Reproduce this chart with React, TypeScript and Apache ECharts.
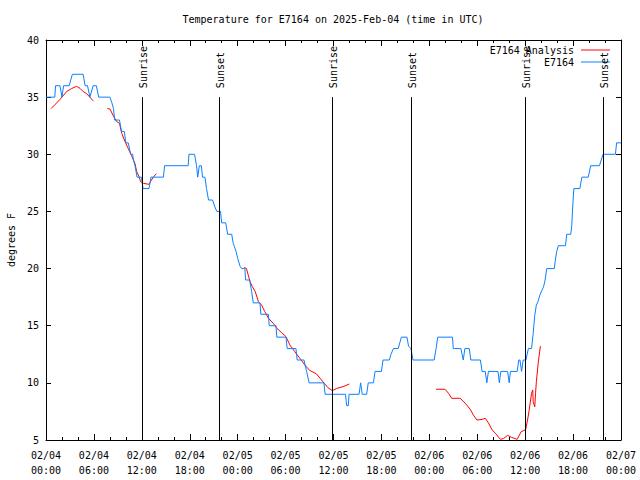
import React, { useEffect, useRef } from "react";
import * as echarts from "echarts";

const FONT = "'DejaVu Sans Mono', 'Liberation Mono', monospace";

const titleText = "Temperature for E7164 on 2025-Feb-04 (time in UTC)";
const yAxisName = "degrees F";

// x values are hours since 02/04 00:00 UTC
const blueName = "E7164";
const blueData: [number, number][] = [
  [0, 35], [1.1, 35], [1.2, 36], [1.75, 36], [2.0, 35], [2.2, 36], [2.9, 36], [3.3, 37], [4.65, 37],
  [4.9, 36], [5.2, 36], [5.5, 35], [5.9, 36], [6.3, 36], [6.6, 35], [8.0, 35], [8.25, 34.5], [8.45, 34],
  [8.6, 33], [9.2, 33], [9.45, 32], [9.8, 32], [10.0, 31], [10.3, 31], [10.6, 30], [10.85, 30],
  [10.95, 29.5], [11.15, 29], [11.4, 28], [11.95, 28], [12.15, 27], [12.9, 27], [13.15, 28], [14.7, 28],
  [14.85, 29], [17.8, 29], [17.9, 30], [18.6, 30], [18.85, 29], [19.0, 28], [19.2, 29], [19.45, 29],
  [19.6, 28], [19.9, 28], [20.1, 27], [20.35, 26], [20.85, 26], [21.2, 25.3], [21.4, 25], [21.85, 25],
  [22.0, 24], [22.5, 24], [22.75, 23], [23.25, 23], [23.45, 22.2], [23.6, 21.9], [23.8, 21.5],
  [24.0, 20.9], [24.3, 20.2], [24.5, 20], [24.9, 20], [25.0, 19], [25.5, 19], [25.75, 18], [25.95, 17],
  [26.8, 17], [26.9, 16], [27.85, 16], [27.95, 15], [28.8, 15], [28.9, 14], [30.05, 14], [30.2, 13],
  [31.3, 13], [31.45, 12], [32.3, 12], [32.6, 11.1], [32.95, 10], [34.8, 10], [34.95, 9], [37.5, 9],
  [37.65, 8], [37.85, 8], [37.95, 9], [39.2, 9], [39.4, 10], [39.6, 9], [40.15, 9], [40.35, 10],
  [41.0, 10], [41.2, 11], [42.0, 11], [42.2, 12], [43.0, 12], [43.2, 12.5], [43.5, 13], [44.1, 13],
  [44.5, 14], [45.2, 14], [45.4, 13.2], [45.7, 13], [45.95, 12], [48.6, 12], [48.85, 13], [49.05, 14],
  [50.9, 14], [51.0, 13], [51.95, 13], [52.25, 12], [52.45, 13], [53.0, 13], [53.2, 12], [54.4, 12],
  [54.6, 11], [55.0, 11], [55.2, 10], [55.4, 11], [56.6, 11], [56.77, 10], [56.95, 11], [57.8, 11],
  [58.0, 10], [58.15, 11], [59.0, 11], [59.2, 12], [59.35, 12], [59.55, 11], [59.75, 12], [60.1, 12],
  [60.4, 13], [60.8, 13], [61.0, 14.3], [61.2, 15.9], [61.4, 16.8], [61.6, 17.1], [61.85, 17.7],
  [62.1, 18.1], [62.3, 18.4], [62.5, 19], [62.7, 20], [63.65, 20], [63.75, 20.6], [63.95, 21.5],
  [64.15, 22], [65.05, 22], [65.2, 23], [65.7, 23], [65.83, 23.7], [65.9, 24.7], [66.0, 26],
  [66.1, 27], [66.85, 27], [67.1, 28], [67.9, 28], [68.2, 29], [69.3, 29], [69.75, 30], [71.3, 30],
  [71.45, 31], [72, 31],
];

const redName = "E7164 Analysis";
const redSeg1: [number, number][] = [
  [0.63, 34.0], [1.2, 34.4], [1.75, 34.8], [2.6, 35.5], [3.2, 35.75], [3.84, 35.95], [4.26, 35.77],
  [4.67, 35.48], [5.1, 35.3], [5.93, 34.66],
];
const redSeg2: [number, number][] = [
  [7.68, 34.0], [8.02, 33.95], [8.44, 33.35], [8.85, 32.86], [9.2, 32.7], [9.48, 31.84], [9.9, 31.1],
  [10.3, 30.5], [10.7, 29.9], [11.14, 29.2], [11.35, 28.5], [11.65, 28.04], [11.85, 27.6],
  [12.2, 27.46], [12.9, 27.37], [13.2, 27.75], [13.5, 28.04], [13.8, 28.3],
];
const redSeg3: [number, number][] = [
  [24.83, 20.1], [25.1, 20.0], [25.55, 18.86], [25.84, 18.42], [26.2, 17.98], [26.6, 17.1],
  [27.0, 16.8], [27.4, 16.23], [27.86, 15.65], [28.46, 15.2], [28.9, 14.78], [29.5, 14.4],
  [30.05, 14.04], [30.55, 13.3], [31.15, 12.73], [31.78, 12.15], [32.4, 11.57], [33.0, 11.1],
  [33.87, 10.78], [34.5, 10.25], [35.3, 9.58], [35.86, 9.32], [36.36, 9.5], [37.2, 9.67], [37.98, 9.9],
];
const redSeg4: [number, number][] = [
  [48.83, 9.44], [49.96, 9.44], [50.4, 9.09], [50.8, 8.65], [51.85, 8.65], [52.5, 8.21], [53.1, 7.7],
  [53.5, 7.2], [53.96, 6.75], [54.6, 6.8], [55.0, 6.9], [55.4, 6.5], [55.85, 5.9], [56.25, 5.6],
  [56.9, 5.06], [57.3, 5.13], [57.8, 5.41], [58.26, 5.24], [59.0, 5.06], [59.5, 5.73], [60.05, 5.9],
  [60.3, 6.75], [60.5, 7.6], [60.8, 9.09], [60.95, 9.38], [61.0, 8.36], [61.2, 7.9], [61.3, 9.09],
  [61.4, 10.1], [61.65, 11.85], [61.9, 13.17], [62.0, 13.2],
];
const redSegments = [redSeg1, redSeg2, redSeg3, redSeg4];

const sunTimes = [11.97, 21.7, 35.85, 45.75, 59.93, 69.8];
const sunLabels = ["Sunrise", "Sunset", "Sunrise", "Sunset", "Sunrise", "Sunset"];
const sunLineTop = 35;

const xMin = 0;
const xMax = 72;
const xStep = 6;
const yMin = 5;
const yMax = 40;
const yStep = 5;

function xLabel(h: number): string {
  const day = 4 + Math.floor(h / 24);
  const hh = Math.round(h % 24);
  return "02/0" + day + "\n" + (hh < 10 ? "0" + hh : "" + hh) + ":00";
}

export default function App() {
  const ref = useRef<HTMLDivElement>(null);
  useEffect(() => {
    if (!ref.current) return;
    const chart = echarts.init(ref.current, undefined, { renderer: "svg" });
    const txt = { fontFamily: FONT, fontSize: 10, color: "#000" };
    const axisLine = { show: true, onZero: false, lineStyle: { color: "#000", width: 1 } };
    const redSeries = redSegments.map((seg) => ({
      name: redName,
      type: "line",
      data: seg,
      symbol: "none",
      showSymbol: false,
      lineStyle: { color: "#ff0000", width: 1 },
      itemStyle: { color: "#ff0000" },
      xAxisIndex: 0,
      yAxisIndex: 0,
      z: 3,
    }));
    chart.setOption({
      animation: false,
      backgroundColor: "#fff",
      grid: { left: 46, right: 19, top: 40, bottom: 40, containLabel: false, outerBoundsMode: "none" },
      graphic: [
        {
          type: "text",
          x: 333,
          y: 19,
          style: {
            text: titleText,
            textAlign: "center",
            textVerticalAlign: "middle",
            font: "10px " + FONT,
            fill: "#000",
          },
        },
      ],
      legend: {
        data: [redName, blueName],
        orient: "vertical",
        right: 30,
        top: 45,
        align: "right",
        icon: "rect",
        itemWidth: 29,
        itemHeight: 1,
        itemGap: 2,
        padding: 0,
        textStyle: { ...txt, padding: [0, 2, 0, 0] },
      },
      xAxis: [
        {
          type: "value",
          position: "bottom",
          min: xMin,
          max: xMax,
          interval: xStep,
          axisLine,
          axisTick: { show: true, inside: true, length: 6, lineStyle: { color: "#000" } },
          minorTick: { show: true, splitNumber: 3, length: 3, lineStyle: { color: "#000" } },
          splitLine: { show: false },
          axisLabel: { ...txt, margin: 8, lineHeight: 15, formatter: (v: number) => xLabel(v) },
        },
        {
          type: "value",
          position: "top",
          min: xMin,
          max: xMax,
          interval: xStep,
          axisLine,
          axisTick: { show: true, inside: true, length: 6, lineStyle: { color: "#000" } },
          minorTick: { show: true, splitNumber: 3, length: 3, lineStyle: { color: "#000" } },
          splitLine: { show: false },
          axisLabel: { show: false },
        },
      ],
      yAxis: [
        {
          type: "value",
          position: "left",
          min: yMin,
          max: yMax,
          interval: yStep,
          name: yAxisName,
          nameLocation: "middle",
          nameGap: 30,
          nameRotate: 90,
          nameTextStyle: txt,
          axisLine,
          axisTick: { show: true, inside: true, length: 5, lineStyle: { color: "#000" } },
          splitLine: { show: false },
          axisLabel: { ...txt, margin: 7 },
        },
        {
          type: "value",
          position: "right",
          min: yMin,
          max: yMax,
          interval: yStep,
          axisLine,
          axisTick: { show: true, inside: true, length: 5, lineStyle: { color: "#000" } },
          splitLine: { show: false },
          axisLabel: { show: false },
        },
      ],
      series: [
        ...redSeries,
        {
          name: blueName,
          type: "line",
          data: blueData,
          symbol: "none",
          showSymbol: false,
          lineStyle: { color: "#0a80ff", width: 1 },
          itemStyle: { color: "#0a80ff" },
          xAxisIndex: 0,
          yAxisIndex: 0,
          z: 4,
        },
        {
          name: "sun",
          type: "custom",
          xAxisIndex: 0,
          yAxisIndex: 0,
          data: sunTimes.map((t) => [t, sunLineTop]),
          encode: { x: 0, y: 1 },
          z: 5,
          silent: true,
          renderItem: (params: any, api: any) => {
            const t = api.value(0);
            const p0 = api.coord([t, yMin]);
            const p1 = api.coord([t, api.value(1)]);
            const x = Math.round(p0[0]) + 0.5;
            return {
              type: "group",
              children: [
                {
                  type: "line",
                  shape: { x1: x, y1: p0[1], x2: x, y2: p1[1] },
                  style: { stroke: "#000", lineWidth: 1 },
                },
                {
                  type: "text",
                  x: x + 1,
                  y: p1[1] - 9,
                  rotation: Math.PI / 2,
                  style: {
                    text: sunLabels[params.dataIndex],
                    textAlign: "left",
                    textVerticalAlign: "middle",
                    font: "10px " + FONT,
                    fill: "#000",
                  },
                },
              ],
            };
          },
        },
      ],
    });
    return () => chart.dispose();
  }, []);
  return (
    <div
      ref={ref}
      style={{ position: "fixed", left: 0, top: 0, width: 640, height: 480, background: "#fff" }}
    />
  );
}
